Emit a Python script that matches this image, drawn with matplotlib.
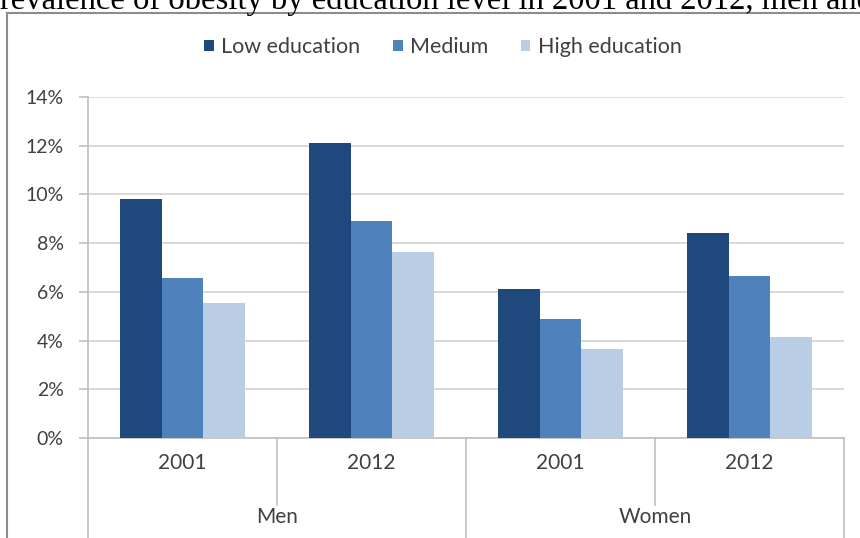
import matplotlib
matplotlib.use("Agg")
import matplotlib.pyplot as plt
from matplotlib.patches import Rectangle
from matplotlib.lines import Line2D
import matplotlib.transforms as mtransforms
import numpy as np

title = "Prevalence of obesity by education level in 2001 and 2012, men and women"
series_names = ["Low education", "Medium", "High education"]
years = ["2001", "2012", "2001", "2012"]
sexes = ["Men", "Women"]
low = [9.8, 12.1, 6.1, 8.4]
medium = [6.55, 8.9, 4.9, 6.65]
high = [5.55, 7.65, 3.65, 4.15]
yticks = [0, 2, 4, 6, 8, 10, 12, 14]

colors = ["#1F497D", "#4F81BD", "#B9CDE5"]
text_color = "#404040"
W, H = 860, 538
plt.rcParams["font.family"] = ["Lato", "DejaVu Sans"]

fig = plt.figure(figsize=(W / 100, H / 100), dpi=100)

def fx(px):
    return px / W

def fy(py):
    return 1 - py / H

# outer chart frame
fig.patches.append(Rectangle((fx(7), fy(600)), fx(900), fy(13) - fy(600),
                             transform=fig.transFigure, fill=False,
                             edgecolor="#8C8C8C", linewidth=1.5))

# document title above the frame
fig.text(fx(-18), fy(8.5), title, family="Liberation Serif", fontsize=23.5,
         ha="left", va="baseline", color="black")

ax = fig.add_axes([fx(88), fy(438), fx(844) - fx(88), fy(97) - fy(438)])
n = len(years)
x = np.arange(n) + 0.5
bw = 42 / 189.5
for i, (vals, c) in enumerate(zip([low, medium, high], colors)):
    ax.bar(x + (i - 1) * bw, vals, width=bw, color=c, label=series_names[i],
           zorder=3)

ax.set_xlim(0, n)
ax.set_ylim(0, 14)
ax.set_yticks(yticks)
ax.set_yticklabels([f"{t}%" for t in yticks], fontsize=14, color=text_color)
ax.yaxis.grid(True, color="#D9D9D9", linewidth=1.4, zorder=0)
ax.set_xticks([])
for s in ["top", "right", "bottom"]:
    ax.spines[s].set_visible(False)
ax.spines["left"].set_color("#BFBFBF")
ax.spines["left"].set_linewidth(1.2)
ax.tick_params(axis="y", length=6.5, width=1.2, color="#BFBFBF", pad=11)

# category axis with two label levels
tr = mtransforms.blended_transform_factory(ax.transData, ax.transAxes)
sep_kw = dict(color="#BFBFBF", linewidth=1.2, transform=tr, clip_on=False)
ax.add_line(Line2D([0, n], [0, 0], **sep_kw))
for xv, y1 in [(0, -0.30), (1, -0.196), (2, -0.30), (3, -0.196), (4, -0.30)]:
    ax.add_line(Line2D([xv, xv], [0, y1], **sep_kw))
for xi, yr in zip(x, years):
    ax.text(xi, -0.073, yr, transform=tr, ha="center", va="center",
            fontsize=15, color=text_color)
for j, sx in enumerate(sexes):
    ax.text(2 * j + 1, -0.232, sx, transform=tr, ha="center", va="center",
            fontsize=15, color=text_color)

leg = fig.legend(loc="center", bbox_to_anchor=(fx(443), fy(47)), ncol=3,
                 frameon=False, fontsize=15.5, handlelength=0.45,
                 handleheight=0.45, handletextpad=0.35, columnspacing=1.5,
                 labelcolor=text_color)

fig.savefig("out.png", dpi=100)
